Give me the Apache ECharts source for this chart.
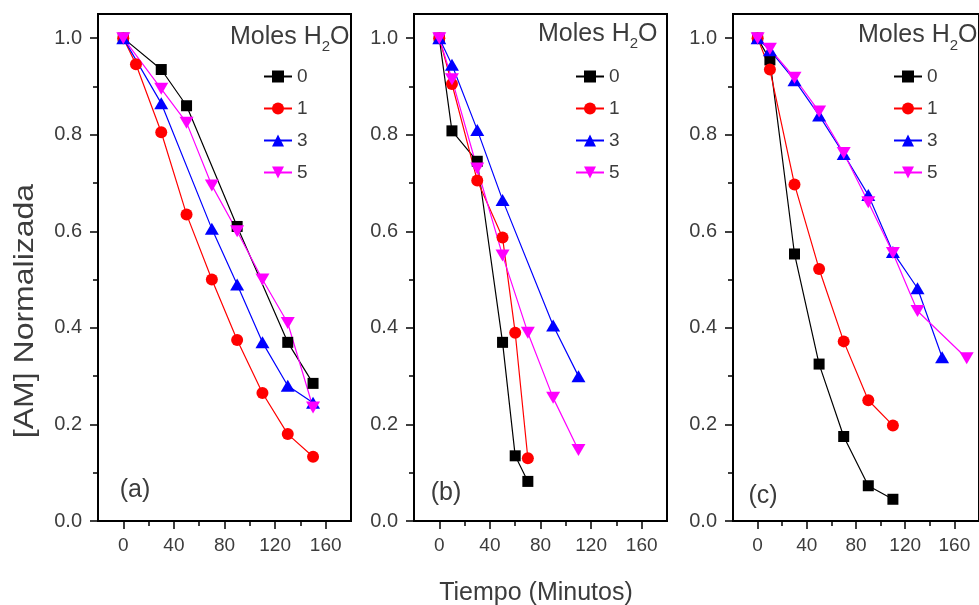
<!DOCTYPE html>
<html>
<head>
<meta charset="utf-8">
<script src="https://cdn.jsdelivr.net/npm/echarts@6/dist/echarts.min.js"></script>
<style>
html,body{margin:0;padding:0;background:#fff;}
#chart{width:979px;height:605px;}
</style>
</head>
<body>
<div id="chart"></div>
<script>
// ---- data ----
const seriesNames = ['0', '1', '3', '5'];
const xTickLabels = [0, 40, 80, 120, 160];
const yTickLabels = [0, 0.2, 0.4, 0.6, 0.8, 1.0];
const panelTags = ['(a)', '(b)', '(c)'];

// panel (a)
const tA0 = [0, 30, 50, 90, 130, 150];
const vA0 = [1.0, 0.935, 0.86, 0.61, 0.37, 0.285];
const tA1 = [0, 10, 30, 50, 70, 90, 110, 130, 150];
const vA1 = [1.0, 0.946, 0.805, 0.635, 0.5, 0.375, 0.265, 0.18, 0.133];
const tA3 = [0, 30, 70, 90, 110, 130, 150];
const vA3 = [1.0, 0.865, 0.605, 0.49, 0.37, 0.28, 0.245];
const tA5 = [0, 30, 50, 70, 90, 110, 130, 150];
const vA5 = [1.0, 0.895, 0.825, 0.695, 0.6, 0.5, 0.41, 0.235];

// panel (b)
const tB0 = [0, 10, 30, 50, 60, 70];
const vB0 = [1.0, 0.808, 0.745, 0.37, 0.135, 0.082];
const tB1 = [0, 10, 30, 50, 60, 70];
const vB1 = [1.0, 0.905, 0.705, 0.587, 0.39, 0.13];
const tB3 = [0, 10, 30, 50, 90, 110];
const vB3 = [1.0, 0.945, 0.81, 0.665, 0.405, 0.3];
const tB5 = [0, 10, 30, 50, 70, 90, 110];
const vB5 = [1.0, 0.915, 0.73, 0.55, 0.39, 0.255, 0.147];

// panel (c)
const tC0 = [0, 10, 30, 50, 70, 90, 110];
const vC0 = [1.0, 0.955, 0.553, 0.325, 0.175, 0.073, 0.045];
const tC1 = [0, 10, 30, 50, 70, 90, 110];
const vC1 = [1.0, 0.935, 0.697, 0.522, 0.372, 0.25, 0.198];
const tC3 = [0, 10, 30, 50, 70, 90, 110, 130, 150];
const vC3 = [1.0, 0.975, 0.913, 0.84, 0.76, 0.675, 0.557, 0.482, 0.339];
const tC5 = [0, 10, 30, 50, 70, 90, 110, 130, 170];
const vC5 = [1.0, 0.978, 0.918, 0.848, 0.762, 0.66, 0.555, 0.435, 0.337];

// ---- chart ----
const panelData = [
  [[tA0, vA0], [tA1, vA1], [tA3, vA3], [tA5, vA5]],
  [[tB0, vB0], [tB1, vB1], [tB3, vB3], [tB5, vB5]],
  [[tC0, vC0], [tC1, vC1], [tC3, vC3], [tC5, vC5]]
];

const fam = "'Liberation Sans', Arial, sans-serif";
const txtColor = '#3c3c3c';
const colors = ['#000000', '#ff0000', '#0000ff', '#ff00ff'];
const symbols = ['rect', 'circle', 'triangle', 'path://M0,0L2,0L1,1.7Z'];
const symSizes = [11, 12, [14, 12], [14, 12]];

const gridLefts = [98, 414, 733];
const legendLefts = [263, 575, 893];
const titlePos = [[230, 19.5], [538, 16.5], [858, 18]];
const tagPos = [[135, 490], [446, 493], [763, 496]];

const grids = [], xAxes = [], yAxes = [], series = [], legends = [], graphics = [];

gridLefts.forEach((left, p) => {
  grids.push({left: left, top: 14, width: 253, height: 507, show: true,
    borderColor: '#000', borderWidth: 2, backgroundColor: 'transparent', containLabel: false});
  xAxes.push({type: 'value', gridIndex: p, position: 'bottom', min: -20, max: 180,
    axisLine: {show: false, onZero: false}, splitLine: {show: false},
    axisTick: {show: true, length: 8, lineStyle: {color: '#000', width: 1.5}, customValues: xTickLabels},
    axisLabel: {show: true, customValues: xTickLabels, margin: 15, fontSize: 19, fontFamily: fam, color: txtColor}
  });
  xAxes.push({type: 'value', gridIndex: p, position: 'bottom', min: -20, max: 180,
    axisLine: {show: false, onZero: false}, splitLine: {show: false}, axisLabel: {show: false},
    axisTick: {show: true, length: 5, lineStyle: {color: '#000', width: 1.5}, customValues: [20, 60, 100, 140]}
  });
  yAxes.push({type: 'value', gridIndex: p, position: 'left', min: 0, max: 1.05,
    axisLine: {show: false, onZero: false}, splitLine: {show: false},
    axisTick: {show: true, length: 8, lineStyle: {color: '#000', width: 1.5}, customValues: yTickLabels},
    axisLabel: {show: true, customValues: yTickLabels, margin: 16, fontSize: 20, fontFamily: fam, color: txtColor,
      formatter: v => Number(v).toFixed(1)}
  });
  yAxes.push({type: 'value', gridIndex: p, position: 'left', min: 0, max: 1.05,
    axisLine: {show: false, onZero: false}, splitLine: {show: false}, axisLabel: {show: false},
    axisTick: {show: true, length: 5, lineStyle: {color: '#000', width: 1.5}, customValues: [0.1, 0.3, 0.5, 0.7, 0.9]}
  });

  panelData[p].forEach((pair, s) => {
    const t = pair[0], v = pair[1];
    series.push({
      type: 'line', name: seriesNames[s], xAxisIndex: 2 * p, yAxisIndex: 2 * p,
      data: t.map((x, i) => [x, v[i]]),
      symbol: symbols[s], symbolSize: symSizes[s], showAllSymbol: true,
      lineStyle: {color: colors[s], width: 1.2},
      itemStyle: {color: colors[s]},
      animation: false, clip: true
    });
  });

  legends.push({
    data: seriesNames, orient: 'vertical', left: legendLefts[p], top: 67,
    itemWidth: 28, itemHeight: 15, itemGap: 13, selectedMode: false,
    textStyle: {fontSize: 19, fontFamily: fam, color: txtColor},
    padding: 0
  });

  graphics.push({
    type: 'text', x: titlePos[p][0], y: titlePos[p][1],
    style: {
      text: '{m|Moles H}{s|2}{m|O}',
      fill: txtColor, verticalAlign: 'top', align: 'left',
      rich: {
        m: {fontSize: 25, fontFamily: fam, lineHeight: 35, fill: txtColor},
        s: {fontSize: 15, fontFamily: fam, lineHeight: 15, verticalAlign: 'bottom', fill: txtColor}
      }
    }
  });
  graphics.push({
    type: 'text', x: tagPos[p][0], y: tagPos[p][1],
    style: {text: panelTags[p], fontSize: 25, fontFamily: fam, fill: txtColor, align: 'center', verticalAlign: 'middle'}
  });
});

graphics.push({
  type: 'text', x: 536, y: 593,
  style: {text: 'Tiempo (Minutos)', fontSize: 25, fontFamily: fam, fill: txtColor, align: 'center', verticalAlign: 'middle'}
});
graphics.push({
  type: 'text', x: 25, y: 311, rotation: Math.PI / 2, scaleY: 0.88,
  style: {text: '[AM] Normalizada', fontSize: 32, fontFamily: fam, fill: txtColor, align: 'center', verticalAlign: 'middle'}
});

const chart = echarts.init(document.getElementById('chart'), null, {renderer: 'canvas'});
chart.setOption({
  animation: false,
  backgroundColor: '#ffffff',
  grid: grids,
  xAxis: xAxes,
  yAxis: yAxes,
  legend: legends,
  series: series,
  graphic: graphics
});
</script>
</body>
</html>
